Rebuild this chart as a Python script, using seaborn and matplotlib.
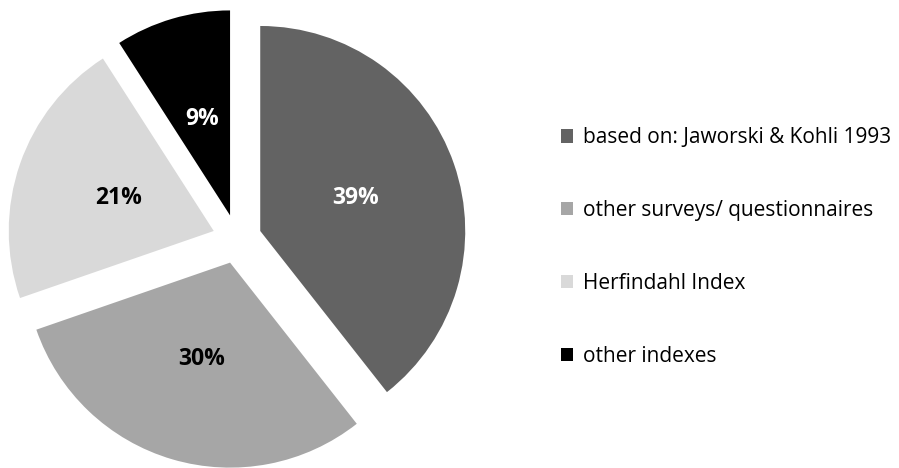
import matplotlib
matplotlib.use("Agg")
import matplotlib.pyplot as plt
from matplotlib.patches import Patch
import seaborn as sns

# data
categories = ["based on: Jaworski & Kohli 1993", "other surveys/ questionnaires",
              "Herfindahl Index", "other indexes"]
shares = [39, 30, 21, 9]

# grey scale palette, one tone per slice
colors = sns.color_palette(["#636363", "#a6a6a6", "#d9d9d9", "#000000"])
label_colors = ["white", "black", "black", "white"]

sns.set_theme(style="white")
plt.rcParams["font.family"] = ["Open Sans", "DejaVu Sans"]
plt.rcParams["text.color"] = "black"

fig = plt.figure(figsize=(8.99, 4.68), dpi=100)
ax = fig.add_axes([0, 0, 475 / 899, 1])

wedges, texts, autotexts = ax.pie(
    shares,
    colors=colors,
    startangle=90,
    counterclock=False,
    explode=[0.12] * len(shares),
    autopct="%1.0f%%",
    pctdistance=0.49,
    wedgeprops=dict(linewidth=0),
)
for t, c in zip(autotexts, label_colors):
    t.set_color(c)
    t.set_fontsize(16.5)
    t.set_fontweight("bold")

ax.set_xlim(-1.156, 1.161)
ax.set_ylim(-1.117, 1.166)
ax.set_aspect("equal")
ax.axis("off")

handles = [Patch(facecolor=c, edgecolor="none") for c in colors]
leg = fig.legend(
    handles, categories,
    loc="center left", bbox_to_anchor=(0.624, 0.472),
    frameon=False, fontsize=15,
    handlelength=0.6, handleheight=0.6, handletextpad=0.45,
    labelspacing=2.49, borderpad=0, borderaxespad=0,
)
for t in leg.get_texts():
    t.set_color("black")

fig.savefig("out.png", dpi=100, facecolor="white")
